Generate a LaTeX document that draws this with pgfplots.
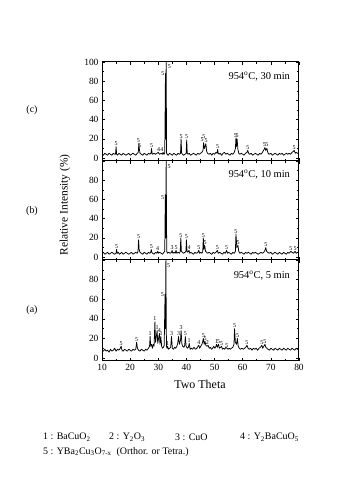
\documentclass[border=0pt]{standalone}
\usepackage{pgfplots}
\pgfplotsset{compat=1.18}
\usepackage{fontspec}
\setmainfont{Liberation Serif}
\pgfplotsset{panel/.style={scale only axis, width=197bp, xmin=10, xmax=80, ymin=-3, ymax=100,
  xtick={10,20,...,80}, minor x tick num=1, minor y tick num=1,
  tick align=inside, major tick length=3bp, minor tick length=1.6bp,
  tick style={black, line width=0.6pt}, axis line style={line width=1pt},
  /pgf/number format/assume math mode=true,
  tick label style={font=\fontsize{9.5}{10}\selectfont},
  clip=true},
  pat/.style={black, line width=0.75pt, mark=none, line join=round}}
\tikzset{lbl/.style={font=\fontsize{6}{6}\selectfont, anchor=south, inner sep=0.6pt},
  temp/.style={font=\fontsize{10.5}{12}\selectfont, anchor=east, inner sep=0pt}}
\begin{document}
\begin{tikzpicture}
\useasboundingbox (0bp,0bp) rectangle (351bp,499bp);
% ---------- (c) 30 min ----------
\begin{axis}[panel, at={(102bp,338bp)}, anchor=south west, height=99bp,
  ytick={0,20,...,100}, xticklabels={}]
\addplot[pat] coordinates {(10,4) (10.5,3) (11,5) (11.5,4) (12,3) (12.5,5) (13,4) (13.5,3) (14,5) (14.5,4) (14.8,4) (15.0,12) (15.2,4) (15.5,3) (16,5) (16.5,4) (17,3) (17.5,5) (18,4) (18.5,3) (19,4) (19.5,5) (20,3) (20.5,4) (21,5) (21.5,4) (22,3) (22.5,5) (22.9,6) (23.1,15) (23.3,9) (23.5,5) (24,4) (24.5,3) (25,5) (25.5,4) (26,3) (26.5,5) (27,4) (27.4,5) (27.6,10) (27.8,5) (28,4) (28.5,5) (29,4) (29.5,5) (30,6) (30.2,5) (30.5,4) (31,5) (31.5,4) (31.7,6) (32,4) (32.3,5) (32.55,88) (32.65,20) (32.8,100) (32.95,5) (33.2,4) (33.5,3) (34,5) (34.5,4) (35,3) (35.5,5) (36,4) (36.5,3) (37,5) (37.5,4) (37.9,5) (38.1,20) (38.3,5) (38.6,4) (39,3) (39.5,4) (39.9,5) (40.1,19) (40.3,5) (40.6,4) (41,5) (41.5,3) (42,4) (42.5,5) (43,4) (43.5,3) (44,5) (44.5,4) (45,5) (45.5,6) (45.9,8) (46.1,16) (46.4,10) (46.7,13) (46.9,15) (47.2,7) (47.5,5) (48,4) (48.5,5) (49,3) (49.5,5) (50,4) (50.5,6) (50.9,5) (51.1,9) (51.3,5) (51.6,4) (52,5) (52.5,3) (53,5) (53.5,6) (54,4) (54.5,5) (55,4) (55.5,3) (56,5) (56.5,4) (57,6) (57.4,10) (57.6,21) (57.8,12) (58.0,20) (58.3,9) (58.6,5) (59,4) (59.5,5) (60,4) (60.5,3) (61,5) (61.5,6) (61.8,8) (62.1,5) (62.5,4) (63,5) (63.5,3) (64,4) (64.5,5) (65,4) (65.5,3) (66,5) (66.5,4) (67,6) (67.6,9) (67.9,11) (68.2,8) (68.6,10) (68.9,6) (69.3,4) (70,5) (70.5,3) (71,4) (71.5,5) (72,4) (72.5,3) (73,5) (73.5,4) (74,5) (74.5,3) (75,4) (75.5,5) (76,4) (76.5,5) (77,4) (77.5,6) (78,7) (78.3,8) (78.7,5) (79,6) (79.5,5) (80,4)};
\node[lbl] at (axis cs:15.0,12) {5};
\node[lbl] at (axis cs:22.9,15) {5};
\node[lbl] at (axis cs:23.4,10) {5};
\node[lbl] at (axis cs:27.6,10) {5};
\node[lbl] at (axis cs:30.1,6) {4};
\node[lbl] at (axis cs:31.3,6) {4};
\node[lbl, anchor=east] at (axis cs:32.4,88) {5};
\node[lbl, anchor=west] at (axis cs:33.1,95) {5};
\node[lbl] at (axis cs:38.1,20) {5};
\node[lbl] at (axis cs:40.1,19) {5};
\node[lbl] at (axis cs:45.6,16) {5};
\node[lbl] at (axis cs:46.2,20) {5};
\node[lbl] at (axis cs:47.0,15) {5};
\node[lbl] at (axis cs:51.1,9) {5};
\node[lbl] at (axis cs:57.4,21) {5};
\node[lbl] at (axis cs:58.0,21) {5};
\node[lbl] at (axis cs:61.8,8) {5};
\node[lbl] at (axis cs:67.7,11) {5};
\node[lbl] at (axis cs:68.6,11) {5};
\node[lbl] at (axis cs:78.3,8) {5};
\node[temp] at (rel axis cs:0.955,0.85) {954\textsuperscript{o}C, 30 min};
\end{axis}
% ---------- (b) 10 min ----------
\begin{axis}[panel, at={(102bp,239bp)}, anchor=south west, height=99bp,
  ytick={0,20,...,100}, yticklabels={0,20,40,60,80,}, xticklabels={}]
\addplot[pat] coordinates {(10,4) (10.5,5) (11,3) (11.5,4) (12,5) (12.5,3) (13,4) (13.5,5) (14,4) (14.5,3) (15.0,4) (15.2,8) (15.4,4) (15.8,5) (16.2,3) (16.6,4) (17,5) (17.5,3) (18,4) (18.5,5) (19,4) (19.5,3) (20,4) (20.5,5) (21,3) (21.5,4) (22,5) (22.5,4) (22.8,6) (23.0,18) (23.2,8) (23.5,5) (24,4) (24.5,3) (25,5) (25.5,4) (26,3) (26.5,5) (27,4) (27.3,5) (27.5,8) (27.7,5) (28,4) (28.5,3) (29,5) (29.5,4) (29.8,6) (30.1,4) (30.5,5) (31,4) (31.5,3) (32,5) (32.3,6) (32.5,65) (32.62,20) (32.8,100) (33.0,6) (33.3,4) (33.7,5) (34.2,4) (34.7,5) (34.9,7) (35.2,4) (35.7,5) (36.0,4) (36.3,7) (36.6,4) (37,5) (37.5,4) (37.8,6) (38.0,20) (38.2,6) (38.6,5) (39,4) (39.5,5) (39.8,6) (40.0,18) (40.2,6) (40.5,5) (40.9,7) (41.2,4) (41.6,5) (42,4) (42.5,3) (43,5) (43.5,4) (44.1,5) (44.4,7) (44.7,4) (45,5) (45.5,4) (45.8,6) (46.0,20) (46.2,8) (46.5,12) (46.8,6) (47.2,5) (47.6,4) (48,5) (48.5,4) (49,3) (49.5,5) (50,4) (50.5,5) (51.0,7) (51.3,4) (51.8,5) (52.3,4) (52.8,3) (53.3,5) (53.8,4) (54.3,7) (54.6,4) (55,5) (55.5,4) (56,3) (56.5,5) (57,4) (57.4,6) (57.6,24) (57.9,10) (58.3,12) (58.6,6) (59,4) (59.5,5) (60,4) (60.5,3) (61,5) (61.5,4) (62,5) (62.5,4) (63,3) (63.5,5) (64,4) (64.5,5) (65,4) (65.5,3) (66,4) (66.5,5) (67,4) (67.5,5) (67.9,7) (68.2,10) (68.5,6) (68.9,5) (69.3,4) (70,5) (70.5,3) (71,4) (71.5,5) (72,4) (72.5,3) (73,5) (73.5,4) (74,3) (74.5,5) (75,4) (75.5,3) (76,5) (76.5,4) (77.1,6) (77.5,5) (78.0,4) (78.6,6) (79,4) (79.5,5) (80,4)};
\node[lbl] at (axis cs:15.2,8) {5};
\node[lbl] at (axis cs:23.0,18) {5};
\node[lbl] at (axis cs:27.5,8) {5};
\node[lbl] at (axis cs:29.8,6) {4};
\node[lbl, anchor=east] at (axis cs:32.35,62) {5};
\node[lbl, anchor=west] at (axis cs:33.0,94) {5};
\node[lbl] at (axis cs:34.9,7) {3};
\node[lbl] at (axis cs:36.3,7) {5};
\node[lbl] at (axis cs:38.0,20) {5};
\node[lbl] at (axis cs:40.0,18) {5};
\node[lbl] at (axis cs:41.0,7) {4};
\node[lbl] at (axis cs:44.4,7) {5};
\node[lbl] at (axis cs:46.0,20) {5};
\node[lbl] at (axis cs:46.6,12) {5};
\node[lbl] at (axis cs:51.0,7) {5};
\node[lbl] at (axis cs:54.3,7) {5};
\node[lbl] at (axis cs:57.6,24) {5};
\node[lbl] at (axis cs:58.4,12) {5};
\node[lbl] at (axis cs:68.2,10) {5};
\node[lbl] at (axis cs:77.1,6) {5};
\node[lbl] at (axis cs:78.6,6) {5};
\node[temp] at (rel axis cs:0.955,0.86) {954\textsuperscript{o}C, 10 min};
\end{axis}
% ---------- (a) 5 min ----------
\begin{axis}[panel, at={(102bp,138bp)}, anchor=south west, height=101bp,
  ytick={0,20,...,100}, yticklabels={0,20,40,60,80,}]
\addplot[pat] coordinates {(10,8) (10.5,7) (11,9) (11.5,7) (12,8) (12.5,6) (13,9) (13.5,7) (14,8) (14.5,10) (15,7) (15.5,9) (16,8) (16.5,10) (16.8,12) (17.1,8) (17.5,7) (18,9) (18.5,8) (19,7) (19.5,9) (20,8) (20.5,7) (21,9) (21.5,8) (22,9) (22.3,16) (22.6,10) (23,8) (23.5,7) (24,9) (24.5,8) (25,7) (25.5,9) (26,8) (26.5,10) (26.9,12) (27.1,22) (27.3,12) (27.6,14) (27.9,10) (28.2,14) (28.5,12) (28.8,37) (29.0,16) (29.3,22) (29.6,28) (29.8,15) (30.1,20) (30.4,25) (30.6,14) (30.9,22) (31.2,12) (31.5,10) (31.8,11) (32.1,13) (32.4,65) (32.55,30) (32.7,100) (32.9,12) (33.1,10) (33.3,12) (33.6,9) (34,10) (34.4,11) (34.7,22) (35.0,10) (35.4,9) (35.8,11) (36.2,10) (36.6,12) (36.9,15) (37.2,22) (37.5,14) (37.9,18) (38.1,28) (38.4,14) (38.7,12) (39.1,11) (39.4,13) (39.6,22) (39.9,12) (40.3,10) (40.7,11) (41.0,15) (41.3,9) (41.7,10) (42.2,9) (42.7,11) (43.2,9) (43.7,10) (44.1,12) (44.4,13) (44.7,10) (45.1,12) (45.5,14) (45.8,17) (46.0,20) (46.3,14) (46.6,17) (46.9,13) (47.3,12) (47.7,13) (48.1,10) (48.5,11) (48.9,9) (49.3,10) (49.7,12) (50.1,10) (50.5,12) (50.7,14) (51.0,11) (51.4,14) (51.7,10) (52.1,11) (52.5,12) (52.8,9) (53.2,10) (53.6,9) (54.0,11) (54.4,10) (54.8,9) (55.2,10) (55.6,9) (56,10) (56.5,11) (56.9,14) (57.1,30) (57.4,16) (57.8,14) (58.1,20) (58.4,12) (58.8,10) (59.2,9) (59.7,10) (60.2,9) (60.7,10) (61.1,11) (61.5,13) (61.9,10) (62.3,9) (62.8,10) (63.3,8) (63.8,10) (64.3,9) (64.8,10) (65.3,8) (65.8,10) (66.3,11) (66.8,13) (67.1,10) (67.5,12) (67.9,14) (68.2,11) (68.6,10) (69,9) (69.5,8) (70,10) (70.5,9) (71,8) (71.5,10) (72,9) (72.5,8) (73,10) (73.5,9) (74,8) (74.5,10) (75,9) (75.5,8) (76,10) (76.5,9) (77,8) (77.5,10) (78,9) (78.5,8) (79,10) (79.5,9) (80,8)};
\node[lbl] at (axis cs:16.8,12) {5};
\node[lbl] at (axis cs:22.3,16) {5};
\node[lbl] at (axis cs:27.1,22) {1};
\node[lbl] at (axis cs:28.8,37) {1};
\node[lbl] at (axis cs:29.6,28) {1};
\node[lbl] at (axis cs:30.4,25) {4};
\node[lbl] at (axis cs:31.0,22) {1};
\node[lbl, anchor=east] at (axis cs:32.25,65) {5};
\node[lbl, anchor=west] at (axis cs:32.9,94) {5};
\node[lbl] at (axis cs:33.3,12) {1};
\node[lbl] at (axis cs:34.7,22) {3};
\node[lbl] at (axis cs:37.2,22) {3};
\node[lbl] at (axis cs:38.1,28) {3};
\node[lbl] at (axis cs:39.6,22) {5};
\node[lbl] at (axis cs:41.0,15) {1};
\node[lbl] at (axis cs:44.4,13) {4};
\node[lbl] at (axis cs:46.0,20) {5};
\node[lbl] at (axis cs:46.6,17) {5};
\node[lbl] at (axis cs:47.4,13) {2};
\node[lbl] at (axis cs:50.7,14) {1};
\node[lbl] at (axis cs:51.4,14) {5};
\node[lbl] at (axis cs:52.5,12) {5};
\node[lbl] at (axis cs:54.4,10) {5};
\node[lbl] at (axis cs:57.1,30) {5};
\node[lbl] at (axis cs:58.2,20) {5};
\node[lbl] at (axis cs:61.5,13) {5};
\node[lbl] at (axis cs:66.8,13) {5};
\node[lbl] at (axis cs:67.9,14) {5};
\node[temp] at (rel axis cs:0.955,0.85) {954\textsuperscript{o}C, 5 min};
\end{axis}
% ---------- labels ----------
\node[rotate=90, font=\fontsize{11.5}{13}\selectfont] at (65bp,294bp) {Relative Intensity (\%)};
\node[font=\fontsize{12}{14}\selectfont] at (200bp,115bp) {Two Theta};
\node[font=\fontsize{10}{12}\selectfont] at (32bp,389bp) {(c)};
\node[font=\fontsize{10}{12}\selectfont] at (32bp,288bp) {(b)};
\node[font=\fontsize{10}{12}\selectfont] at (32bp,189bp) {(a)};
\begin{scope}[every node/.style={anchor=west, inner sep=0pt, font=\fontsize{10}{12}\selectfont}]
\node at (43bp,62bp) {1 : BaCuO\textsubscript{2}};
\node at (109bp,62bp) {2 : Y\textsubscript{2}O\textsubscript{3}};
\node at (175bp,62bp) {3 : CuO};
\node at (240bp,62bp) {4 : Y\textsubscript{2}BaCuO\textsubscript{5}};
\node at (43bp,47bp) {5 : YBa\textsubscript{2}Cu\textsubscript{3}O\textsubscript{7-x}\ \ (Orthor. or Tetra.)};
\end{scope}
\end{tikzpicture}
\end{document}
